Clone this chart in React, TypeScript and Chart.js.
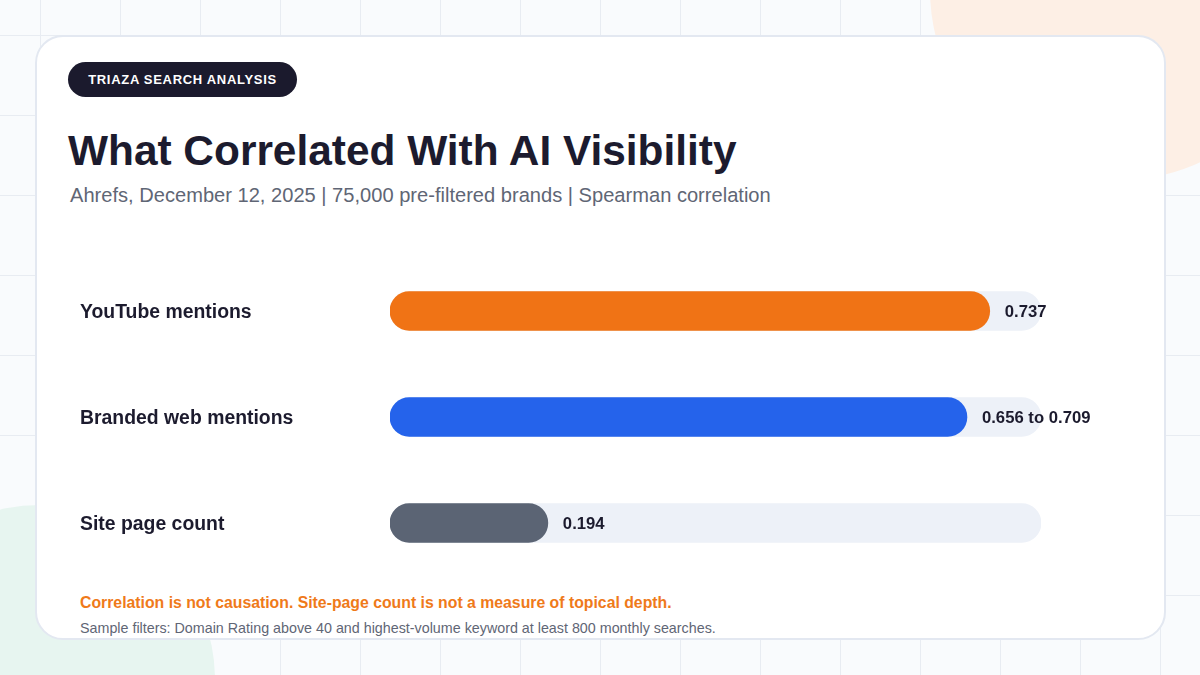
import React, { useEffect, useRef } from "react";
import { Chart, registerables } from "chart.js";

Chart.register(...registerables);

const categories = ["YouTube mentions", "Branded web mentions", "Site page count"];
const barValues = [0.737, 0.709, 0.194];
const rangeLow: (number | null)[] = [null, 0.656, null];
const valueLabels = barValues.map((v, i) =>
  rangeLow[i] != null ? `${(rangeLow[i] as number).toFixed(3)} to ${v.toFixed(3)}` : v.toFixed(3)
);
const scaleMax = 0.8;
const trackValues = categories.map(() => scaleMax);
const barColors = ["#f07315", "#2563eb", "#5b6474"];

const FONT = '"Liberation Sans", Arial, Helvetica, sans-serif';
const INK = "#1c1b2e";

const valueLabelPlugin = {
  id: "valueLabels",
  afterDatasetsDraw(chart: any) {
    const meta = chart.getDatasetMeta(0);
    const ctx = chart.ctx;
    ctx.save();
    ctx.font = `bold 16.7px ${FONT}`;
    ctx.fillStyle = INK;
    ctx.textAlign = "left";
    ctx.textBaseline = "middle";
    meta.data.forEach((el: any, i: number) => {
      ctx.fillText(valueLabels[i], el.x + 15, el.y + 1);
    });
    ctx.restore();
  },
};

function BarChart() {
  const ref = useRef<HTMLCanvasElement | null>(null);
  useEffect(() => {
    if (!ref.current) return;
    const chart = new Chart(ref.current, {
      type: "bar",
      data: {
        labels: categories,
        datasets: [
          {
            data: barValues,
            backgroundColor: barColors,
            barThickness: 39,
            borderRadius: 20,
            borderSkipped: false,
            grouped: false,
            order: 1,
          } as any,
          {
            data: trackValues,
            backgroundColor: "#edf1f8",
            barThickness: 39,
            borderRadius: 20,
            borderSkipped: false,
            grouped: false,
            order: 2,
          } as any,
        ],
      },
      options: {
        indexAxis: "y",
        animation: false,
        responsive: false,
        layout: { padding: { left: 0, right: 79, top: 0, bottom: 0 } },
        plugins: { legend: { display: false }, tooltip: { enabled: false } },
        scales: {
          x: { display: false, min: 0, max: scaleMax },
          y: {
            type: "category",
            grid: { display: false },
            border: { display: false },
            ticks: {
              crossAlign: "far",
              color: INK,
              padding: 0,
              labelOffset: 2,
              font: { family: FONT, size: 19.4, weight: "bold" },
            },
            afterFit: (s: any) => {
              s.width = 310;
              s.paddingTop = 0;
              s.paddingBottom = 0;
            },
          },
        },
      } as any,
      plugins: [valueLabelPlugin],
    });
    return () => chart.destroy();
  }, []);
  return (
    <canvas
      ref={ref}
      width={1040}
      height={318}
      style={{ position: "absolute", left: 80, top: 258, width: 1040, height: 318 }}
    />
  );
}

export default function App() {
  return (
    <div
      style={{
        position: "fixed",
        left: 0,
        top: 0,
        width: 1200,
        height: 675,
        overflow: "hidden",
        background: "#f9fbfd",
        backgroundImage:
          "linear-gradient(to right, #e8ecf2 1px, transparent 1px), linear-gradient(to bottom, #e8ecf2 1px, transparent 1px)",
        backgroundSize: "80px 80px",
        backgroundPosition: "40px 35px",
        fontFamily: FONT,
      }}
    >
      <div
        style={{
          position: "absolute",
          left: 1120 - 190,
          top: -10 - 190,
          width: 380,
          height: 380,
          borderRadius: "50%",
          background: "#fdefe5",
        }}
      />
      <div
        style={{
          position: "absolute",
          left: 40 - 175,
          top: 680 - 175,
          width: 350,
          height: 350,
          borderRadius: "50%",
          background: "#e7f5f0",
        }}
      />
      <div
        style={{
          position: "absolute",
          left: 35,
          top: 35,
          width: 1131,
          height: 605,
          boxSizing: "border-box",
          background: "#ffffff",
          border: "2px solid #e3e8f1",
          borderRadius: 28,
        }}
      />
      <div
        style={{
          position: "absolute",
          left: 68,
          top: 62,
          width: 229,
          height: 35,
          borderRadius: 18,
          background: "#1b1a2d",
          color: "#ffffff",
          fontWeight: "bold",
          fontSize: 13,
          letterSpacing: 0.7,
          display: "flex",
          alignItems: "center",
          justifyContent: "center",
        }}
      >
        TRIAZA SEARCH ANALYSIS
      </div>
      <div
        style={{
          position: "absolute",
          left: 68,
          top: 130,
          fontSize: 42.4,
          lineHeight: "42px",
          fontWeight: "bold",
          color: INK,
          whiteSpace: "nowrap",
        }}
      >
        What Correlated With AI Visibility
      </div>
      <div
        style={{
          position: "absolute",
          left: 70,
          top: 185,
          fontSize: 20.1,
          lineHeight: "20px",
          color: "#5f6675",
          whiteSpace: "nowrap",
        }}
      >
        Ahrefs, December 12, 2025 | 75,000 pre-filtered brands | Spearman correlation
      </div>
      <BarChart />
      <div
        style={{
          position: "absolute",
          left: 80,
          top: 595,
          fontSize: 15.8,
          lineHeight: "16px",
          fontWeight: "bold",
          color: "#ef7a1a",
          whiteSpace: "nowrap",
        }}
      >
        Correlation is not causation. Site-page count is not a measure of topical depth.
      </div>
      <div
        style={{
          position: "absolute",
          left: 80,
          top: 621,
          fontSize: 14.3,
          lineHeight: "14px",
          color: "#5f6675",
          whiteSpace: "nowrap",
        }}
      >
        Sample filters: Domain Rating above 40 and highest-volume keyword at least 800 monthly searches.
      </div>
    </div>
  );
}
